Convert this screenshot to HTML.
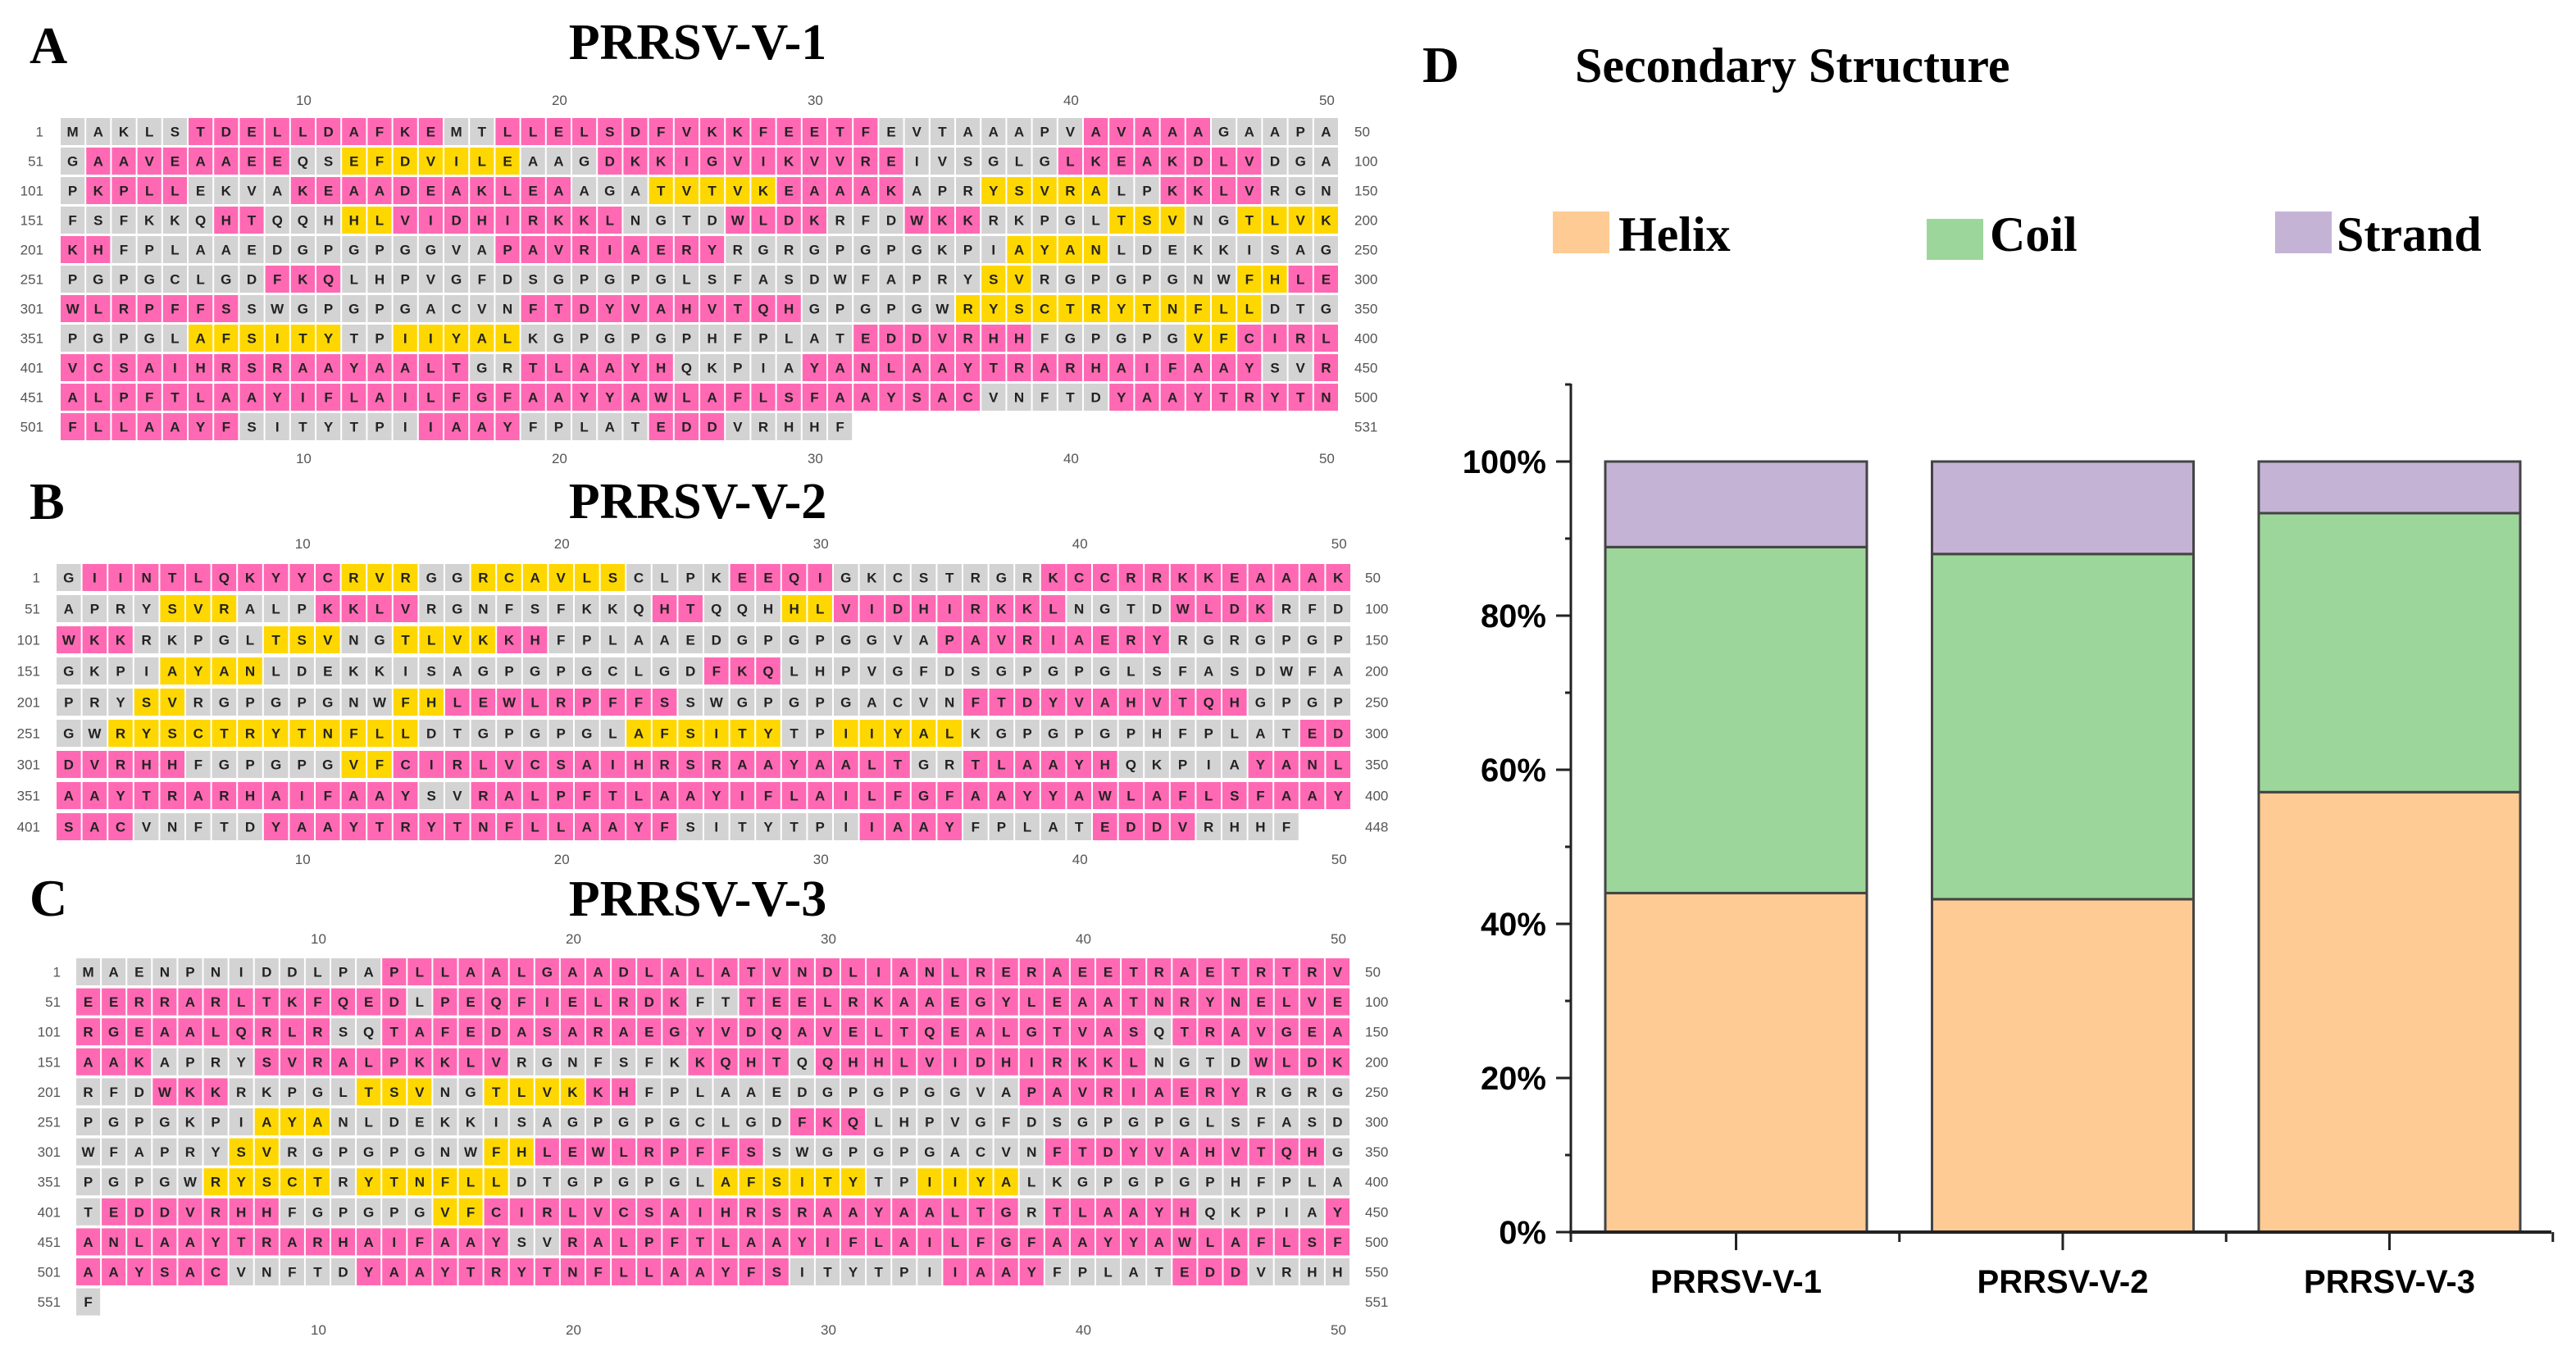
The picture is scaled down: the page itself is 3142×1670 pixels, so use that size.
<!DOCTYPE html>
<html><head><meta charset="utf-8"><style>
html,body{margin:0;padding:0;background:#fff;}
svg{display:block;}
.seq{font-family:"Liberation Sans",Arial,sans-serif;font-weight:bold;font-size:17px;fill:#222;}
.num{font-family:"Liberation Sans",Arial,sans-serif;font-size:17px;fill:#555;}
.ttl{font-family:"Liberation Serif","Times New Roman",serif;font-weight:bold;}
.ax{font-family:"Liberation Sans",Arial,sans-serif;font-weight:bold;}
</style></head><body>
<svg id="fig" width="3142" height="1670" viewBox="0 0 3142 1670" xmlns="http://www.w3.org/2000/svg">
<rect width="3142" height="1670" fill="#fff"/>
<text class="ttl" x="36" y="77" font-size="64">A</text>
<text class="ttl" x="851" y="72" font-size="62" text-anchor="middle">PRRSV-V-1</text>
<text class="ttl" x="36" y="633" font-size="64">B</text>
<text class="ttl" x="851" y="632" font-size="62" text-anchor="middle">PRRSV-V-2</text>
<text class="ttl" x="36" y="1117" font-size="64">C</text>
<text class="ttl" x="851" y="1117" font-size="62" text-anchor="middle">PRRSV-V-3</text>
<g id="seqs"></g>
<text class="ttl" x="1735" y="100" font-size="62">D</text>
<text class="ttl" x="1921" y="100" font-size="60">Secondary Structure</text>
<g id="legend">
<rect x="1894" y="258" width="69" height="51" fill="#FDCB93"/>
<text class="ttl" x="1974" y="306" font-size="60">Helix</text>
<rect x="2350" y="267" width="69" height="50" fill="#9DD69B"/>
<text class="ttl" x="2427" y="306" font-size="60">Coil</text>
<rect x="2775" y="258" width="69" height="51" fill="#C5B3D6"/>
<text class="ttl" x="2850" y="306" font-size="60">Strand</text>
</g>
<g id="chart"></g>
</svg>
<script>
var NS="http://www.w3.org/2000/svg";
function mk(tag,attrs,parent){var e=document.createElementNS(NS,tag);for(var k in attrs)e.setAttribute(k,attrs[k]);parent.appendChild(e);return e;}
var COL={g:"#D3D3D3",p:"#FF69B4",y:"#FFD700"};
var panels=[
{id:"a",x0:74,pitch:31.2,top:144,rp:36,ch:33,colY:128,botY:565,lx:53,rx:1652,total:531,
seq:["MAKLSTDELLDAFKEMTLLELSDFVKKFEETFEVTAAAPVAVAAAGAAPA","GAAVEAAEEQSEFDVILEAAGDKKIGVIKVVREIVSGLGLKEAKDLVDGA","PKPLLEKVAKEAADEAKLEAAGATVTVKEAAAKAPRYSVRALPKKLVRGN","FSFKKQHTQQHHLVIDHIRKKLNGTDWLDKRFDWKKRKPGLTSVNGTLVK","KHFPLAAEDGPGPGGVAPAVRIAERYRGRGPGPGKPIAYANLDEKKISAG","PGPGCLGDFKQLHPVGFDSGPGPGLSFASDWFAPRYSVRGPGPGNWFHLE","WLRPFFSSWGPGPGACVNFTDYVAHVTQHGPGPGWRYSCTRYTNFLLDTG","PGPGLAFSITYTPIIYALKGPGPGPHFPLATEDDVRHHFGPGPGVFCIRL","VCSAIHRSRAAYAALTGRTLAAYHQKPIAYANLAAYTRARHAIFAAYSVR","ALPFTLAAYIFLAILFGFAAYYAWLAFLSFAAYSACVNFTDYAAYTRYTN","FLLAAYFSITYTPIIAAYFPLATEDDVRHHF"],
col:["g5p15g17p32g40p45g50","g1p9g11y18g21p33g39p47g50","g1p5g9p20g23y28p33g36y41g43p47g50","g6p8g11y13p22g26p30g33p36g41y44g46y50","p2g17p26g37y41g50","g8p11g36y38g46y48p50","p7g18p29g35y47g50","g5y11g13y18g31p38g44y46p50","p16g18p24g29p47g49p50","p36g41p50","p7g14p18g23p26g31"]},
{id:"b",x0:69,pitch:31.6,top:688,rp:38,ch:33,colY:669,botY:1054,lx:49,rx:1665,total:448,
seq:["GIINTLQKYYCRVRGGRCAVLSCLPKEEQIGKCSTRGRKCCRRKKEAAAK","APRYSVRALPKKLVRGNFSFKKQHTQQHHLVIDHIRKKLNGTDWLDKRFD","WKKRKPGLTSVNGTLVKKHFPLAAEDGPGPGGVAPAVRIAERYRGRGPGP","GKPIAYANLDEKKISAGPGPGCLGDFKQLHPVGFDSGPGPGLSFASDWFA","PRYSVRGPGPGNWFHLEWLRPFFSSWGPGPGACVNFTDYVAHVTQHGPGP","GWRYSCTRYTNFLLDTGPGPGLAFSITYTPIIYALKGPGPGPHFPLATED","DVRHHFGPGPGVFCIRLVCSAIHRSRAAYAALTGRTLAAYHQKPIAYANL","AAYTRARHAIFAAYSVRALPFTLAAYIFLAILFGFAAYYAWLAFLSFAAY","SACVNFTDYAAYTRYTNFLLAAYFSITYTPIIAAYFPLATEDDVRHHF"],
col:["g1p11y14g16y22g26p30g38p50","g4y7g10p14g23p25g28y30p39g43p47g50","p3g8y11g13y17p19g34p43g50","g4y8g25p28g50","g3y5g13y15p24g35p46g50","g2y14g22y28g30y35g48p50","p5g11y13p33g35p41g46p50","p14g16p50","p3g8p24g31p35g40p44g48"]},
{id:"c",x0:93,pitch:31.1,top:1169,rp:36.6,ch:33,colY:1151,botY:1628,lx:74,rx:1665,total:551,
seq:["MAENPNIDDLPAPLLAALGAADLALATVNDLIANLRERAEETRAETRTRV","EERRARLTKFQEDLPEQFIELRDKFTTEELRKAAEGYLEAATNRYNELVE","RGEAALQRLRSQTAFEDASARAEGYVDQAVELTQEALGTVASQTRAVGEA","AAKAPRYSVRALPKKLVRGNFSFKKQHTQQHHLVIDHIRKKLNGTDWLDK","RFDWKKRKPGLTSVNGTLVKKHFPLAAEDGPGPGGVAPAVRIAERYRGRG","PGPGKPIAYANLDEKKISAGPGPGCLGDFKQLHPVGFDSGPGPGLSFASD","WFAPRYSVRGPGPGNWFHLEWLRPFFSSWGPGPGACVNFTDYVAHVTQHG","PGPGWRYSCTRYTNFLLDTGPGPGLAFSITYTPIIYALKGPGPGPHFPLA","TEDDVRHHFGPGPGVFCIRLVCSAIHRSRAAYAALTGRTLAAYHQKPIAY","ANLAAYTRARHAIFAAYSVRALPFTLAAYIFLAILFGFAAYYAWLAFLSF","AAYSACVNFTDYAAYTRYTNFLLAAYFSITYTPIIAAYFPLATEDDVRHH","F"],
col:["g12p50","p13g14p24g26p50","p10g12p42g43p50","p3g7p17g24p28g29p42g46p50","g3p6g11y14g16y20p22g37p46g50","g7y10g28p31g50","g6y8g16y18p27g38p49g50","g5y10g11y17g25y31g33y37g50","g1p8g14y16p37g38p44g49p50","p17g19p50","p6g11p28g34p38g43p46g50","g1"]}
];
function expand(s){var out=[],re=/([gpy])(\d+)/g,m;while((m=re.exec(s))){while(out.length<+m[2])out.push(m[1]);}return out;}
var sg=document.getElementById("seqs");
panels.forEach(function(P){
  var g=mk("g",{},sg);
  
  
  [10,20,30,40,50].forEach(function(c){
    var cx=P.x0+(c-0.5)*P.pitch;
    var t1=mk("text",{x:cx,y:P.colY,"text-anchor":"middle","class":"num"},g);t1.textContent=c;
    
    
    var t2=mk("text",{x:cx,y:P.botY,"text-anchor":"middle","class":"num"},g);t2.textContent=c;
    
    
  });
  P.seq.forEach(function(row,r){
    var top=P.top+r*P.rp, cols=expand(P.col[r]);
    var ln=mk("text",{x:P.lx,y:top+P.ch/2+6,"text-anchor":"end","class":"num"},g);ln.textContent=(r*50+1);
    
    
    var end=Math.min((r+1)*50,P.total);
    var rn=mk("text",{x:P.rx,y:top+P.ch/2+6,"class":"num"},g);rn.textContent=end;
    
    
    for(var i=0;i<row.length;i++){
      var x=P.x0+i*P.pitch;
      var rc=mk("rect",{x:x,y:top,width:P.pitch-2,height:P.ch,fill:COL[cols[i]||"g"]},g);
      
      
      var t=mk("text",{x:x+(P.pitch-2)/2,y:top+P.ch/2+6,"text-anchor":"middle","class":"seq"},g);t.textContent=row[i];
      
      
    }
  });
});

// ---- Chart D data ----
var categories=["PRRSV-V-1","PRRSV-V-2","PRRSV-V-3"];
var helix=[44.0,43.2,57.1];
var coil=[44.9,44.8,36.2];
var strand=[11.1,12.0,6.7];
var yTicks=[0,20,40,60,80,100];
var yTickLabels=["0%","20%","40%","60%","80%","100%"];

var ch=document.getElementById("chart");
var Y0=1503,PX=9.4,XA=1916,XR=3112,STEP=398.5,C0=2117.5,BW=319;
function yS(v){return Y0-v*PX;}
function xC(i){return C0+i*STEP;}
var colors={helix:"#FDCB93",coil:"#9DD69B",strand:"#C5B3D6"};
categories.forEach(function(c,i){
  var segs=[["helix",helix[i]],["coil",coil[i]],["strand",strand[i]]],acc=0;
  segs.forEach(function(s){
    var r=mk("rect",{x:xC(i)-BW/2,y:yS(acc+s[1]),width:BW,height:s[1]*PX,fill:colors[s[0]],stroke:"#444","stroke-width":3},ch);
    
    
    acc+=s[1];
  });
  var tk=mk("line",{x1:xC(i),x2:xC(i),y1:Y0,y2:Y0+22,stroke:"#222","stroke-width":3},ch);
  
  
  var mt=mk("line",{x1:xC(i)+STEP/2,x2:xC(i)+STEP/2,y1:Y0,y2:Y0+12,stroke:"#222","stroke-width":3},ch);
  
  
  var lb=mk("text",{x:xC(i),y:Y0+74,"text-anchor":"middle","class":"ax","font-size":"40"},ch);lb.textContent=c;
  
  
});
var ya=mk("line",{x1:XA,x2:XA,y1:468,y2:Y0+2,stroke:"#222","stroke-width":3},ch);


var xa=mk("line",{x1:XA-2,x2:XR,y1:Y0,y2:Y0,stroke:"#222","stroke-width":4},ch);


var m0=mk("line",{x1:XA,x2:XA,y1:Y0,y2:Y0+12,stroke:"#222","stroke-width":3},ch);


yTicks.forEach(function(v,i){
  var t=mk("line",{x1:XA-18,x2:XA,y1:yS(v),y2:yS(v),stroke:"#222","stroke-width":3},ch);
  
  
  var l=mk("text",{x:XA-30,y:yS(v)+14,"text-anchor":"end","class":"ax","font-size":"40"},ch);l.textContent=yTickLabels[i];
  
  
  var mv=v+10;
  var mt=mk("line",{x1:XA-7,x2:XA,y1:yS(mv),y2:yS(mv),stroke:"#222","stroke-width":3},ch);
  
  
});
</script>
</body></html>
